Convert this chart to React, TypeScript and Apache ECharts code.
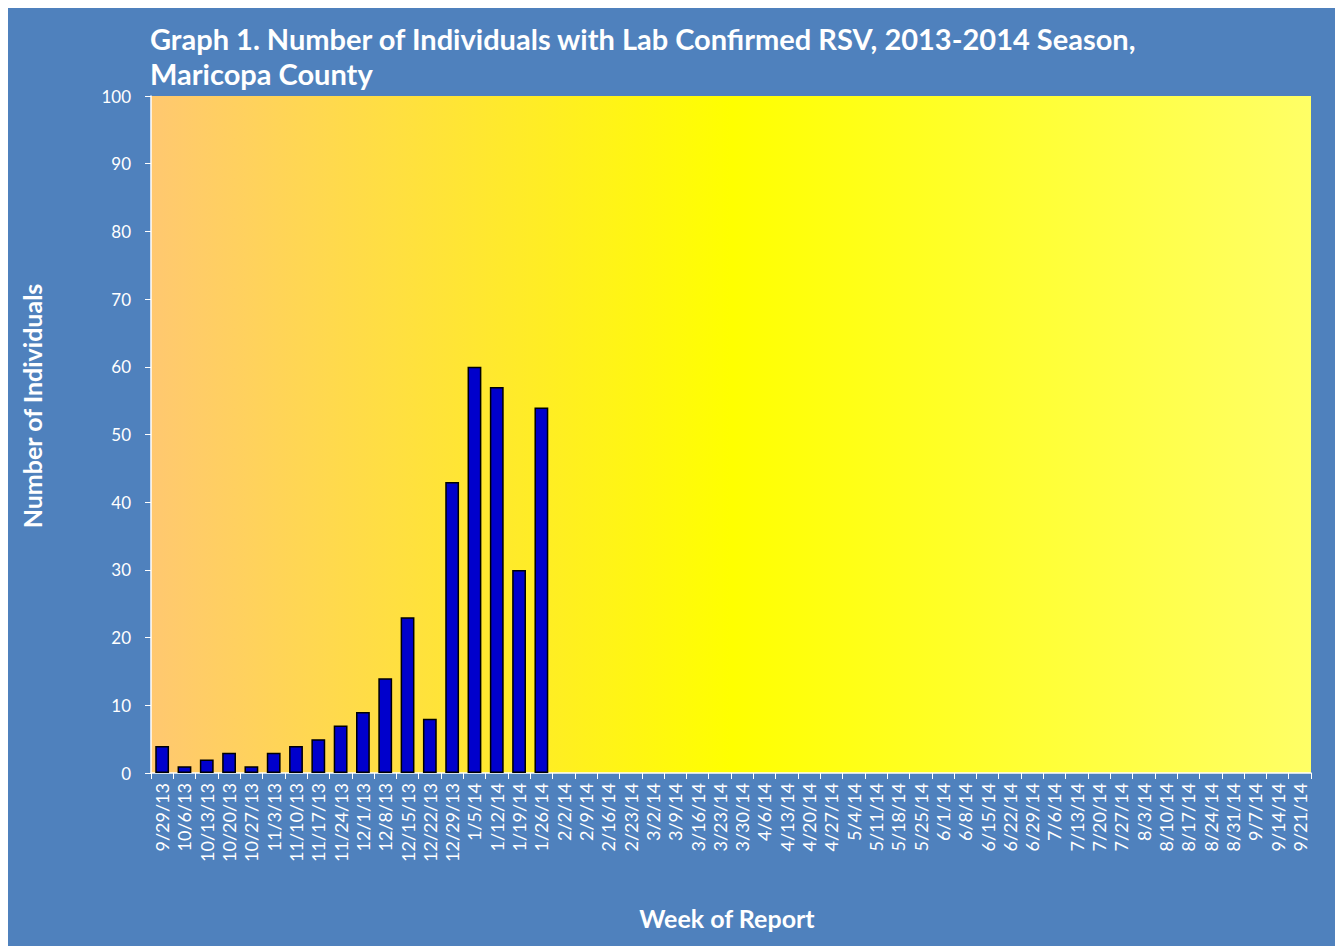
import React, { useEffect, useRef } from "react";
import * as echarts from "echarts";

const weeks = [
  "9/29/13","10/6/13","10/13/13","10/20/13","10/27/13","11/3/13","11/10/13","11/17/13","11/24/13",
  "12/1/13","12/8/13","12/15/13","12/22/13","12/29/13","1/5/14","1/12/14","1/19/14","1/26/14",
  "2/2/14","2/9/14","2/16/14","2/23/14","3/2/14","3/9/14","3/16/14","3/23/14","3/30/14",
  "4/6/14","4/13/14","4/20/14","4/27/14","5/4/14","5/11/14","5/18/14","5/25/14",
  "6/1/14","6/8/14","6/15/14","6/22/14","6/29/14","7/6/14","7/13/14","7/20/14","7/27/14",
  "8/3/14","8/10/14","8/17/14","8/24/14","8/31/14","9/7/14","9/14/14","9/21/14",
];
const individuals = [4, 1, 2, 3, 1, 3, 4, 5, 7, 9, 14, 23, 8, 43, 60, 57, 30, 54];
const yTicks = { min: 0, max: 100, interval: 10 };

const FONT = "Lato, 'Open Sans', sans-serif";

export default function App() {
  const ref = useRef<HTMLDivElement>(null);
  useEffect(() => {
    if (!ref.current) return;
    const chart = echarts.init(ref.current, undefined, { renderer: "svg" });
    chart.setOption({
      animation: false,
      backgroundColor: "#4F81BD",
      textStyle: { fontFamily: FONT },
      title: {
        text: "Graph 1. Number of Individuals with Lab Confirmed RSV, 2013-2014 Season,\nMaricopa County",
        left: 137,
        top: 8,
        textStyle: { color: "#fff", fontSize: 29, fontWeight: "bold", lineHeight: 35, fontFamily: FONT },
      },
      graphic: [
        {
          type: "text",
          x: 24,
          y: 398,
          rotation: Math.PI / 2,
          style: {
            text: "Number of Individuals",
            fill: "#fff",
            font: "bold 25px Lato, 'Open Sans', sans-serif",
            align: "center",
            verticalAlign: "middle",
          },
        },
        {
          type: "text",
          x: 719,
          y: 910,
          style: {
            text: "Week of Report",
            fill: "#fff",
            font: "bold 25px Lato, 'Open Sans', sans-serif",
            align: "center",
            verticalAlign: "middle",
          },
        },
      ],
      grid: {
        left: 143,
        right: 27,
        top: 88,
        bottom: 173,
        show: true,
        borderWidth: 0,
        backgroundColor: new echarts.graphic.LinearGradient(0, 0, 1, 0, [
          { offset: 0, color: "#FFC870" },
          { offset: 0.5, color: "#FFFF00" },
          { offset: 1, color: "#FFFF66" },
        ]),
      },
      xAxis: {
        type: "category",
        data: weeks,
        axisLine: { lineStyle: { color: "#fff", width: 1.5 } },
        axisTick: { show: true, length: 6, lineStyle: { color: "#fff" } },
        axisLabel: { rotate: 90, interval: 0, color: "#fff", fontSize: 18, margin: 10, fontFamily: FONT },
      },
      yAxis: {
        type: "value",
        min: yTicks.min,
        max: yTicks.max,
        interval: yTicks.interval,
        axisLine: { show: true, lineStyle: { color: "#fff", width: 1.5 } },
        axisTick: { show: true, length: 6, lineStyle: { color: "#fff" } },
        splitLine: { show: false },
        axisLabel: { color: "#fff", fontSize: 17, margin: 20, fontFamily: FONT },
      },
      series: [
        {
          type: "bar",
          data: individuals,
          barCategoryGap: "38%",
          itemStyle: { color: "#0000CC", borderColor: "#000", borderWidth: 1.5 },
        },
      ],
    });
    return () => chart.dispose();
  }, []);
  return <div ref={ref} style={{ width: 1330, height: 938 }} />;
}
